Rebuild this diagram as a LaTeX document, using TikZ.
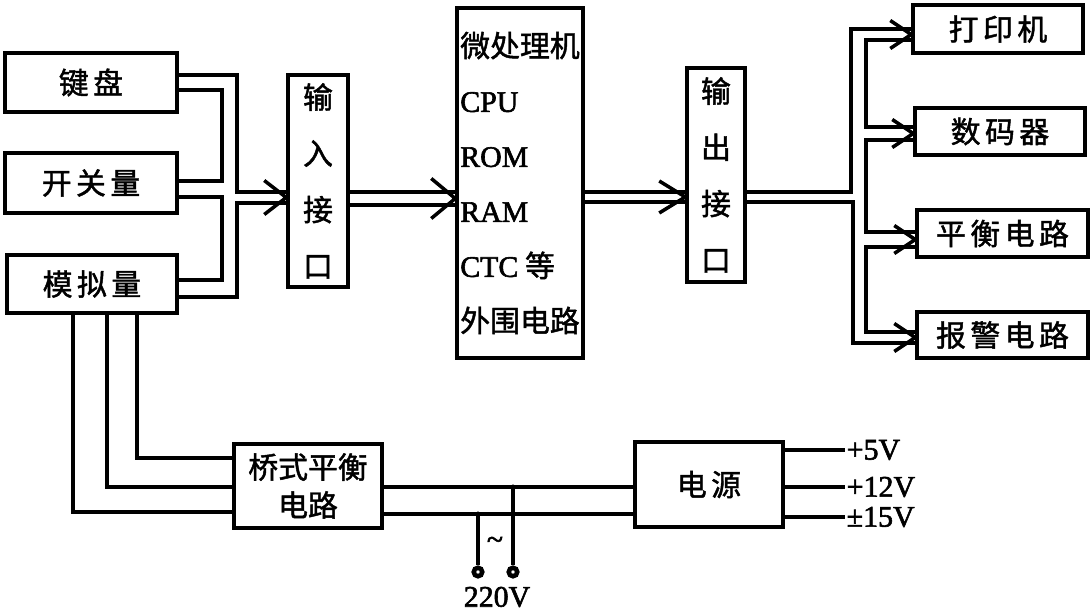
\documentclass[tikz,border=0pt]{standalone}
\usepackage{fontspec}
\setmainfont{Liberation Serif}[FakeBold=2]
\newfontfamily\cjk{Noto Sans CJK SC}[FakeBold=1.5]
\newfontfamily\cjkw{Noto Sans CJK SC}[FakeBold=1.5,LetterSpace=15]
\begin{document}
\begin{tikzpicture}[x=0.02cm,y=-0.02cm,line width=2pt,
    box/.style={shape=rectangle,draw,inner sep=0pt,font=\cjkw\fontsize{17}{20}\selectfont},
    colbox/.style={box,align=center,font=\cjk\fontsize{17}{32}\selectfont},
    volt/.style={inner sep=0pt,font=\fontsize{17}{20}\selectfont},
    term/.style={shape=circle,draw,fill=white,inner sep=0pt,minimum size=0.17cm,line width=2.6pt}]
    \useasboundingbox (0,0) rectangle (1090,614);
    % inputs
    \node[box,minimum width=3.44cm,minimum height=1.18cm] (kbd) at (91,82.5) {键盘};
    \node[box,minimum width=3.44cm,minimum height=1.2cm] (sw) at (91,183) {开关量};
    \node[box,minimum width=3.4cm,minimum height=1.16cm] (ana) at (92,284) {模拟量};
    \node[colbox,minimum width=1.2cm,minimum height=4.24cm] (inif) at (318,181) {输\\入\\接\\口};
    \node[colbox,align=left,font=\cjk\fontsize{17}{31.3}\selectfont,inner xsep=0.06cm,minimum width=2.52cm,minimum height=7cm] (cpu) at (520,183)
        {微处理机\\{\rmfamily CPU}\\{\rmfamily ROM}\\{\rmfamily RAM}\\{\rmfamily CTC} 等\\外围电路};
    \node[colbox,minimum width=1.16cm,minimum height=4.28cm] (outif) at (716,175) {输\\出\\接\\口};
    % outputs
    \node[box,minimum width=3.4cm,minimum height=0.96cm] (prn) at (998,29) {打印机};
    \node[box,minimum width=3.4cm,minimum height=0.94cm] (dig) at (1000,131.5) {数码器};
    \node[box,minimum width=3.42cm,minimum height=0.94cm] (bal) at (1002.5,233.5) {平衡电路};
    \node[box,minimum width=3.42cm,minimum height=0.92cm] (alm) at (1002.5,335) {报警电路};
    % power
    \node[colbox,font=\cjk\fontsize{17}{21.6}\selectfont,minimum width=2.96cm,minimum height=1.68cm] (bridge) at (308,486) {桥式平衡\\电路};
    \node[box,minimum width=2.96cm,minimum height=1.7cm] (psu) at (709,484.5) {电源};
    \node[term] (acA) at (478,572) {};
    \node[term] (acB) at (513,572) {};
    \node[volt] (tilde) at (495,543) {\textasciitilde};
    \node[volt] (mains) at (497,597) {220V};
    \node[volt,anchor=west] (v5) at (845,450) {+5V};
    \node[volt,anchor=west] (v12) at (845,487) {+12V};
    \node[volt,anchor=west] (v15) at (845,517) {±15V};

    \draw (kbd.east |- 0,75) -| (237,192) -- (inif.west |- 0,192);
    \draw (kbd.east |- 0,90) -| (222,181) -- (sw.east |- 0,181);
    \draw (sw.east |- 0,197) -| (222,280) -- (ana.east |- 0,280);
    \draw (ana.east |- 0,297) -| (237,203) -- (inif.west |- 0,203);
    \draw (inif.west |- 0,197.5) ++(-22,-17) -- (inif.west |- 0,197.5) -- ++(-22,17);

    \draw (inif.east |- 0,192) -- (cpu.west |- 0,192);
    \draw (inif.east |- 0,205) -- (cpu.west |- 0,205);
    \draw (cpu.west |- 0,198.5) ++(-24,-20) -- (cpu.west |- 0,198.5) -- ++(-24,20);

    \draw (cpu.east |- 0,192) -- (outif.west |- 0,192);
    \draw (cpu.east |- 0,202) -- (outif.west |- 0,202);
    \draw (outif.west |- 0,197) ++(-26,-16) -- (outif.west |- 0,197) -- ++(-26,16);

    \draw (outif.east |- 0,192) -| (851,29) -- (prn.west |- 0,29);
    \draw (prn.west |- 0,40) -| (866,127) -- (dig.west |- 0,127);
    \draw (dig.west |- 0,140) -| (866,232) -- (bal.west |- 0,232);
    \draw (bal.west |- 0,247) -| (866,332) -- (alm.west |- 0,332);
    \draw (outif.east |- 0,202) -| (853,343) -- (alm.west |- 0,343);
    \draw (prn.west |- 0,34.5) ++(-21,-14) -- (prn.west |- 0,34.5) -- ++(-21,14);
    \draw (dig.west |- 0,133.5) ++(-21,-14) -- (dig.west |- 0,133.5) -- ++(-21,14);
    \draw (bal.west |- 0,239.5) ++(-21,-14) -- (bal.west |- 0,239.5) -- ++(-21,14);
    \draw (alm.west |- 0,337.5) ++(-21,-14) -- (alm.west |- 0,337.5) -- ++(-21,14);

    \draw (ana.south -| 137,0) |- (bridge.west |- 0,458);
    \draw (ana.south -| 107,0) |- (bridge.west |- 0,487);
    \draw (ana.south -| 73,0) |- (bridge.west |- 0,512);
    \draw (bridge.east |- 0,487) -- (psu.west |- 0,487);
    \draw (bridge.east |- 0,514) -- (psu.west |- 0,514);
    \draw (acA) -- (acA |- 0,514);
    \draw (acB) -- (acB |- 0,487);
    \fill (acA |- 0,514) circle (0.05cm);
    \fill (acB |- 0,487) circle (0.05cm);
    \draw (psu.east |- v5) -- (v5);
    \draw (psu.east |- v12) -- (v12);
    \draw (psu.east |- v15) -- (v15);
\end{tikzpicture}
\end{document}
